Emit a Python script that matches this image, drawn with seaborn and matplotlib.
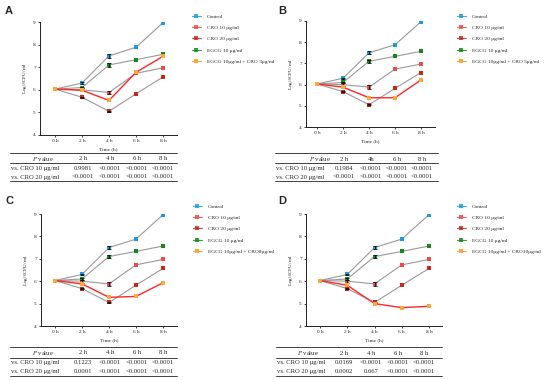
import numpy as np
import pandas as pd
import matplotlib.pyplot as plt
from matplotlib.lines import Line2D
import seaborn as sns

# time points (h)
times = [0, 2, 4, 6, 8]
tick_labels = ["0 h", "2 h", "4 h", "6 h", "8 h"]

# log10 CFU/ml (shared series)
control = [6.03, 6.30, 7.50, 7.88, 8.97]
cro10 = [6.03, 6.00, 5.88, 6.73, 6.97]
cro20 = [6.03, 5.67, 5.05, 5.82, 6.57]
egcg10 = [6.03, 6.10, 7.10, 7.33, 7.57]

# small error bars (SD) visible on a few points
control_err = [0, 0.03, 0.08, 0, 0]
cro10_err = [0, 0.07, 0.08, 0, 0]
cro20_err = [0, 0.02, 0.02, 0, 0]
egcg10_err = [0, 0.04, 0.08, 0, 0]

# combination series, one per panel
combo_a = [6.03, 5.98, 5.53, 6.77, 7.48]
combo_b = [6.03, 5.88, 5.38, 5.38, 6.22]
combo_c = [6.03, 5.88, 5.28, 5.32, 5.93]
combo_d = [6.03, 5.82, 5.00, 4.82, 4.88]

combo_labels = ["EGCG 10μg/ml + CRO 3μg/ml", "EGCG 10μg/ml + CRO 5μg/ml",
                "EGCG 10μg/ml + CRO8μg/ml", "EGCG 10μg/ml + CRO10μg/ml"]

# p-value tables
p_headers = [["2 h", "4 h", "6 h", "8 h"], ["2 h", "4h", "6 h", "8 h"],
             ["2 h", "4 h", "6 h", "8 h"], ["2 h", "4 h", "6 h", "8 h"]]
p_cro10 = [["0.9981", "<0.0001", "<0.0001", "<0.0001"],
           ["0.1984", "<0.0001", "<0.0001", "<0.0001"],
           ["0.1223", "<0.0001", "<0.0001", "<0.0001"],
           ["0.0169", "<0.0001", "<0.0001", "<0.0001"]]
p_cro20 = [["<0.0001", "<0.0001", "<0.0001", "<0.0001"],
           ["<0.0001", "<0.0001", "<0.0001", "<0.0001"],
           ["0.0001", "<0.0001", "<0.0001", "<0.0001"],
           ["0.0002", "0.667", "<0.0001", "<0.0001"]]
row_labels = ["vs. CRO 10 μg/ml", "vs. CRO 20 μg/ml"]
panel_letters = ["A", "B", "C", "D"]

W, H = 550, 380

def fx(x):
    return x / W

def fy(y):
    return 1 - y / H

sns.set_style("white")
plt.rcParams['font.family'] = ['Liberation Serif', 'DejaVu Serif']
plt.rcParams['mathtext.fontset'] = 'stix'

fig = plt.figure(figsize=(5.5, 3.8), dpi=100)

# pixel layout per panel
layouts = [
    dict(left=40, right=177, top=22, bottom=135, x0=55, x8=163,
         leg=(192, 14), letter=(5, 11),
         tab=dict(x0=10, x1=177, lines=[153, 162.7, 181], rows=[158.8, 168.2, 177.0],
                  pcx=43, cols=[83, 110, 137, 163])),
    dict(left=306, right=435, top=21, bottom=127, x0=317, x8=421,
         leg=(457, 14), letter=(278, 11),
         tab=dict(x0=275, x1=438, lines=[153.3, 162.8, 181], rows=[159.0, 168.2, 177.0],
                  pcx=320, cols=[344, 371, 397, 422])),
    dict(left=41, right=177, top=214, bottom=326, x0=55, x8=163,
         leg=(193, 204), letter=(5, 201),
         tab=dict(x0=10, x1=177, lines=[347, 357.5, 375.5], rows=[352.7, 362.4, 371.2],
                  pcx=43, cols=[83, 110, 137, 163])),
    dict(left=306, right=442, top=214, bottom=326, x0=320, x8=429,
         leg=(457, 204), letter=(278, 201),
         tab=dict(x0=276, x1=442, lines=[347, 358, 376], rows=[353.2, 362.7, 371.6],
                  pcx=308, cols=[344, 371, 398, 424])),
]

combos = [combo_a, combo_b, combo_c, combo_d]

gray = "#999999"
series_style = [
    ("Control", control, control_err, "#1e9be0"),
    ("CRO 10 μg/ml", cro10, cro10_err, "#f24a4a"),
    ("CRO 20 μg/ml", cro20, cro20_err, "#c8281c"),
    ("EGCG 10 μg/ml", egcg10, egcg10_err, "#18861c"),
]
combo_line = "#ff2626"
combo_marker = "#ffa63a"

for i, lay in enumerate(layouts):
    ax = fig.add_axes([fx(lay["left"]), fy(lay["bottom"]),
                       fx(lay["right"] - lay["left"]), (lay["bottom"] - lay["top"]) / H])
    pxh = (lay["x8"] - lay["x0"]) / 8
    ax.set_xlim(-(lay["x0"] - lay["left"]) / pxh, 8 + (lay["right"] - lay["x8"]) / pxh)
    ax.set_ylim(4, 9)

    handles = []
    for label, vals, err, col in series_style:
        df = pd.DataFrame({"time": times, "value": vals, "err": err})
        sns.lineplot(data=df, x="time", y="value", ax=ax, color=gray, lw=0.8,
                     marker="s", markersize=2.6, markerfacecolor=col,
                     markeredgecolor=col, markeredgewidth=0, zorder=3)
        e = df[df["err"] > 0]
        ax.errorbar(e["time"], e["value"], yerr=e["err"], fmt="none", ecolor="#111111",
                    elinewidth=0.6, capsize=1.3, capthick=0.6, zorder=4)
        handles.append(Line2D([], [], color=col, lw=0.8, marker="s", markersize=2.4,
                              markerfacecolor=col, markeredgewidth=0, alpha=0.85))
    dfc = pd.DataFrame({"time": times, "value": combos[i]})
    sns.lineplot(data=dfc, x="time", y="value", ax=ax, color=combo_line, lw=1.0,
                 marker="s", markersize=2.6, markerfacecolor=combo_marker,
                 markeredgecolor=combo_marker, markeredgewidth=0, zorder=5)
    handles.append(Line2D([], [], color=combo_marker, lw=0.8, marker="s", markersize=2.4,
                          markerfacecolor=combo_marker, markeredgewidth=0))
    labels = [s[0] for s in series_style] + [combo_labels[i]]

    ax.set_xticks(times)
    ax.set_xticklabels(tick_labels)
    ax.set_yticks([4, 5, 6, 7, 8, 9])
    ax.tick_params(axis="both", labelsize=3.8, length=1.5, width=0.6, pad=1.5,
                   colors="#222222", bottom=True, left=True)
    ax.set_xlabel("Time (h)", fontsize=3.8, labelpad=2.5)
    ax.set_ylabel(r"Log$_{10}$CFU/ml", fontsize=3.8, labelpad=3)
    for side in ["top", "right"]:
        ax.spines[side].set_visible(False)
    for side in ["left", "bottom"]:
        ax.spines[side].set_linewidth(0.7)
        ax.spines[side].set_color("#222222")

    fig.legend(handles, labels, loc="upper left",
               bbox_to_anchor=(fx(lay["leg"][0]), fy(lay["leg"][1])),
               frameon=False, fontsize=3.9, handlelength=1.6, handletextpad=1.2,
               labelspacing=1.2, borderpad=0, borderaxespad=0)

    fig.text(fx(lay["letter"][0]), fy(lay["letter"][1]), panel_letters[i],
             fontsize=8, fontweight="bold", family="Liberation Sans",
             va="center", ha="left")

    # p-value table
    t = lay["tab"]
    for ly in t["lines"]:
        fig.add_artist(Line2D([fx(t["x0"]), fx(t["x1"])], [fy(ly), fy(ly)],
                              color="#222222", lw=0.6))
    fig.text(fx(t["pcx"]), fy(t["rows"][0]), r"$\it{P}$ value", fontsize=4.8,
             ha="center", va="center")
    for c, h in zip(t["cols"], p_headers[i]):
        fig.text(fx(c), fy(t["rows"][0]), h, fontsize=4.8, ha="center", va="center")
    for r, (rl, vals) in enumerate(zip(row_labels, [p_cro10[i], p_cro20[i]])):
        ry = t["rows"][r + 1]
        fig.text(fx(t["x0"] + 1), fy(ry), rl, fontsize=4.8, ha="left", va="center")
        for c, v in zip(t["cols"], vals):
            fig.text(fx(c), fy(ry), v, fontsize=4.8, ha="center", va="center")

fig.savefig("out.png", dpi=100)
